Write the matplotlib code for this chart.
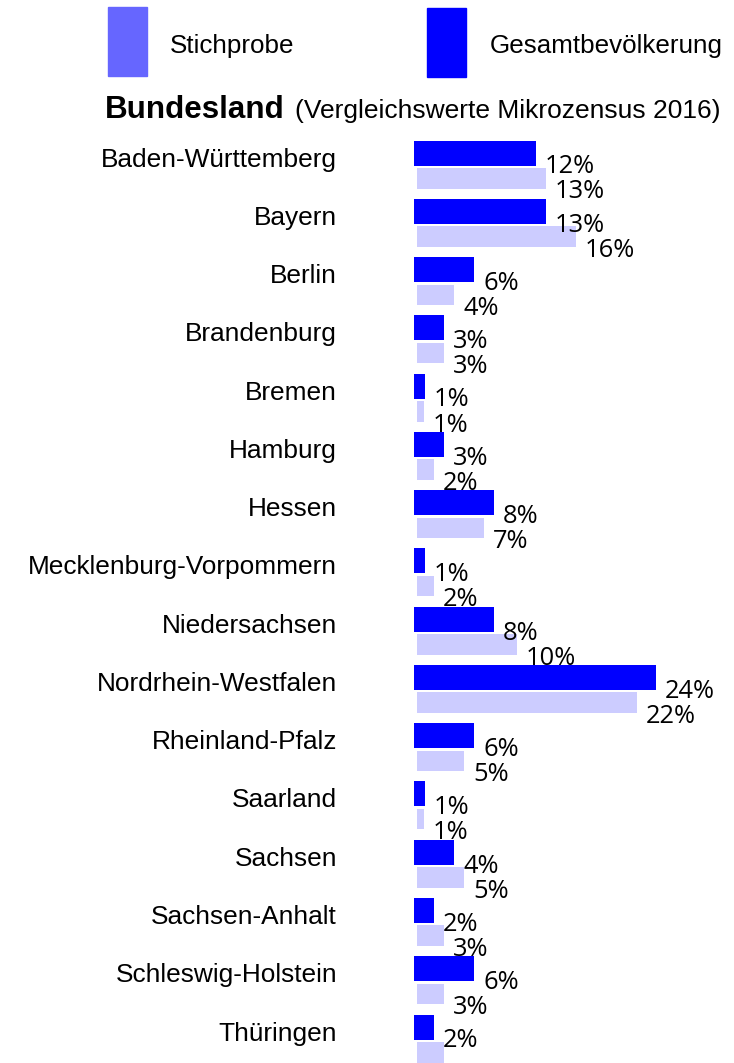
import matplotlib.pyplot as plt
import numpy as np
from matplotlib.patches import Rectangle

# Bundesländer (top to bottom)
laender = ['Baden-Württemberg', 'Bayern', 'Berlin', 'Brandenburg', 'Bremen',
           'Hamburg', 'Hessen', 'Mecklenburg-Vorpommern', 'Niedersachsen',
           'Nordrhein-Westfalen', 'Rheinland-Pfalz', 'Saarland', 'Sachsen',
           'Sachsen-Anhalt', 'Schleswig-Holstein', 'Thüringen']

# share in % (Mikrozensus 2016 vs. sample)
gesamt = [12.2, 13.2, 6.0, 3.0, 1.1, 3.0, 8.0, 1.1, 8.0, 24.2, 6.0, 1.1, 4.0, 2.0, 6.0, 2.0]
stichprobe = [12.9, 15.9, 3.7, 2.7, 0.7, 1.7, 6.7, 1.7, 10.0, 22.0, 4.7, 0.7, 4.7, 2.7, 2.7, 2.7]

W, H = 734, 1063
dark = '#0000FF'
light = '#CCCCFF'
legend_light = '#6666FF'

fig = plt.figure(figsize=(W / 100, H / 100), dpi=100)
fig.set_facecolor('white')

def fx(x):
    return x / W

def fy(y):
    return 1 - y / H

# bar area
ax = fig.add_axes([fx(414), 0, 320 / W, (H - 130) / H])
rows = np.arange(len(laender))
ax.barh(rows, gesamt, height=0.429, color=dark)
ax.barh(rows + 0.433, stichprobe, height=0.352, left=0.3, color=light)
ax.set_xlim(0, 32)
ax.set_ylim(15.617, -0.395)
ax.set_frame_on(False)
ax.set_xticks([])
ax.set_yticks(rows + 0.069)
ax.set_yticklabels(laender, family='Liberation Sans', fontsize=18.9)
ax.tick_params(axis='y', length=0, pad=55.4)

# value labels
for i, v in enumerate(gesamt):
    ax.annotate(f'{v:.0f}%', xy=(v, i + 0.35), xytext=(6.5, 0),
                textcoords='offset points', va='baseline', ha='left',
                family='Open Sans', fontsize=18.4, color='black')
for i, v in enumerate(stichprobe):
    ax.annotate(f'{v:.0f}%', xy=(v + 0.3, i + 0.78), xytext=(6.5, 0),
                textcoords='offset points', va='baseline', ha='left',
                family='Open Sans', fontsize=18.4, color='black')

# legend
fig.add_artist(Rectangle((fx(108), fy(76)), 39 / W, 69 / H,
                         transform=fig.transFigure, color=legend_light))
fig.add_artist(Rectangle((fx(427), fy(77)), 39 / W, 69 / H,
                         transform=fig.transFigure, color=dark))
fig.text(fx(170), fy(53), 'Stichprobe', family='Liberation Sans',
         fontsize=18.7, va='baseline')
fig.text(fx(490), fy(53), 'Gesamtbevölkerung', family='Liberation Sans',
         fontsize=18.7, va='baseline')

# title
t1 = fig.text(fx(105), fy(118), 'Bundesland', family='Liberation Sans',
              fontsize=22.6, weight='bold', va='baseline')
bb = t1.get_window_extent(fig.canvas.get_renderer())
fig.text((bb.x1 + 10) / W, fy(118), '(Vergleichswerte Mikrozensus 2016)',
         family='Liberation Sans', fontsize=19.0, va='baseline')

fig.savefig('out.png', dpi=100)
